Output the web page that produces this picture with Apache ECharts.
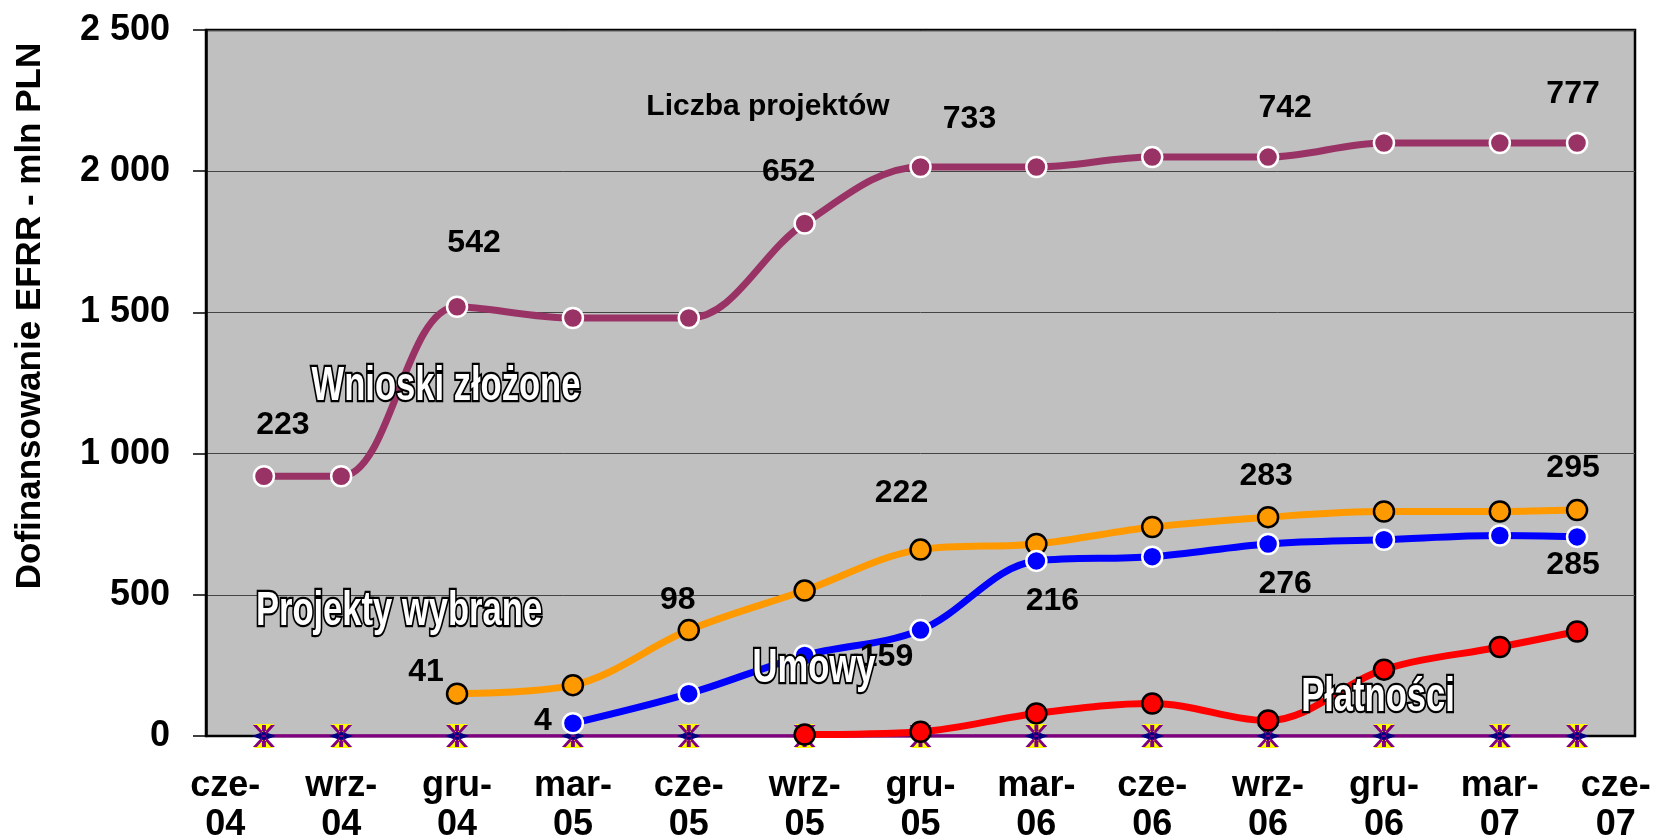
<!DOCTYPE html>
<html>
<head>
<meta charset="utf-8">
<title>Dofinansowanie EFRR</title>
<script src="https://cdn.jsdelivr.net/npm/echarts@6/dist/echarts.min.js"></script>
<style>
  html, body { margin: 0; padding: 0; background: #fff; }
  #chart { width: 1655px; height: 838px; }
</style>
</head>
<body>
<div id="chart"></div>
<script>
// months on the axis (one slot per month)
const months = [
  "cze-04", "lip-04", "sie-04", "wrz-04", "paź-04", "lis-04", "gru-04",
  "sty-05", "lut-05", "mar-05", "kwi-05", "maj-05", "cze-05", "lip-05", "sie-05", "wrz-05", "paź-05", "lis-05", "gru-05",
  "sty-06", "lut-06", "mar-06", "kwi-06", "maj-06", "cze-06", "lip-06", "sie-06", "wrz-06", "paź-06", "lis-06", "gru-06",
  "sty-07", "lut-07", "mar-07", "kwi-07", "maj-07", "cze-07"
];

// months with a reported value
const pointMonths = ["lip-04", "wrz-04", "gru-04", "mar-05", "cze-05", "wrz-05", "gru-05", "mar-06", "cze-06", "wrz-06", "gru-06", "mar-07", "maj-07"];

// mln PLN
const wnioski   = [920, 920, 1520, 1480, 1480, 1815, 2015, 2015, 2050, 2050, 2100, 2100, 2100];
const projekty  = [null, null, 150, 180, 375, 515, 660, 680, 740, 775, 795, 795, 800];
const umowy     = [null, null, null, 45, 150, 285, 375, 620, 635, 680, 695, 710, 705];
const platnosci = [null, null, null, null, null, 5, 15, 80, 115, 55, 235, 315, 370];
const zero      = [0, 0, 0, 0, 0, 0, 0, 0, 0, 0, 0, 0, 0];

// liczba projektów
const liczbaWnioski  = [223, null, 542, null, null, 652, 733, null, null, 742, null, null, 777];
const liczbaProjekty = [null, null, 41, null, 98, null, 222, null, null, 283, null, null, 295];
const liczbaUmowy    = [null, null, null, 4, null, null, 159, 216, null, 276, null, null, 285];

// where the count labels sit relative to their point (px)
const offWnioski  = [[19, -51], null, [17, -64], null, null, [-16, -51], [49, -48], null, null, [17, -49], null, null, [-4, -49]];
const offProjekty = [null, null, [-31, -21], null, [-11, -30], null, [-19, -56], null, null, [-2, -41], null, null, [-4, -42]];
const offUmowy    = [null, null, null, [-30, -2], null, null, [-34, 27], [16, 40], null, [17, 40], null, null, [-4, 28]];

const FONT = "'Liberation Sans', Arial, sans-serif";

function buildData(values, counts, offsets) {
  const out = [];
  pointMonths.forEach((m, i) => {
    if (values[i] == null) return;
    const item = { value: [m, values[i]] };
    if (counts && counts[i] != null) {
      item.label = {
        show: true,
        position: "inside",
        formatter: String(counts[i]),
        offset: offsets[i],
        fontFamily: FONT,
        fontSize: 32,
        fontWeight: "bold",
        color: "#000"
      };
    }
    out.push(item);
  });
  return out;
}

function lineSeries(name, values, color, ring, counts, offsets) {
  return {
    name: name,
    type: "line",
    smooth: 0.35,
    data: buildData(values, counts, offsets),
    symbol: "circle",
    symbolSize: 20,
    lineStyle: { color: color, width: 7 },
    itemStyle: { color: color, borderColor: ring, borderWidth: 2.5 },
    z: 5
  };
}

const chart = echarts.init(document.getElementById("chart"));

const zeroData = pointMonths.map((m, i) => [m, zero[i]]);

chart.setOption({
  animation: false,
  backgroundColor: "#fff",
  grid: {
    left: 206,
    right: 20,
    top: 30,
    bottom: 102,
    outerBoundsMode: "none",
    containLabel: false,
    show: true,
    backgroundColor: "#c0c0c0",
    borderColor: "#000",
    borderWidth: 2.5
  },
  xAxis: {
    type: "category",
    data: months,
    boundaryGap: true,
    axisLine: { lineStyle: { color: "#000", width: 2 } },
    axisTick: { interval: 2, length: 12, lineStyle: { color: "#707070", width: 2 } },
    axisLabel: {
      interval: 2,
      margin: 31,
      formatter: (v) => v.replace("-", "-\n"),
      fontFamily: FONT,
      fontSize: 36,
      fontWeight: "bold",
      lineHeight: 39,
      color: "#000"
    },
    splitLine: { show: false }
  },
  yAxis: {
    type: "value",
    min: 0,
    max: 2500,
    interval: 500,
    axisLine: { show: true, lineStyle: { color: "#000", width: 2.5 } },
    axisTick: { show: true, length: 13, lineStyle: { color: "#000", width: 1.5 } },
    axisLabel: {
      margin: 36,
      formatter: (v) => String(v).replace(/\B(?=(\d{3})+(?!\d))/g, " "),
      fontFamily: FONT,
      fontSize: 36,
      fontWeight: "bold",
      color: "#000"
    },
    splitLine: { lineStyle: { color: "#444", width: 1 } }
  },
  series: [
    {
      name: "zero",
      type: "line",
      data: zeroData,
      symbol: "path://M0,0L10,0L5,5L10,10L0,10L5,5Z",
      symbolSize: [20, 24],
      lineStyle: { color: "#800080", width: 3.5 },
      itemStyle: { color: "#ffff00" },
      z: 3
    },
    {
      name: "zero-b",
      type: "line",
      data: zeroData,
      symbol: "path://M0,5L5,3L10,5L5,7Z",
      symbolSize: [24, 9],
      lineStyle: { width: 0 },
      itemStyle: { color: "#000080" },
      z: 3
    },
    {
      name: "zero-x",
      type: "line",
      data: zeroData,
      symbol: "path://M0,0L1.8,0L5,3.6L8.2,0L10,0L5.9,4.6L5.9,0L4.1,0L4.1,4.6ZM0,10L1.8,10L5,6.4L8.2,10L10,10L5.9,5.4L5.9,10L4.1,10L4.1,5.4ZM4.1,4.6L5.9,4.6L5.9,5.4L4.1,5.4Z",
      symbolSize: [22, 22],
      lineStyle: { width: 0 },
      itemStyle: { color: "#800080" },
      z: 4
    },
    lineSeries("Wnioski złożone", wnioski, "#993366", "#ffffff", liczbaWnioski, offWnioski),
    lineSeries("Projekty wybrane", projekty, "#ff9900", "#000000", liczbaProjekty, offProjekty),
    lineSeries("Umowy", umowy, "#0000ff", "#ffffff", liczbaUmowy, offUmowy),
    lineSeries("Płatności", platnosci, "#ff0000", "#000000", null, null)
  ],
  graphic: [
    {
      type: "text",
      x: 30,
      y: 316,
      rotation: Math.PI / 2,
      style: {
        text: "Dofinansowanie EFRR - mln PLN",
        fontFamily: FONT,
        fontSize: 35,
        fontWeight: "bold",
        fill: "#000",
        textAlign: "center",
        textVerticalAlign: "middle"
      }
    },
    {
      type: "text",
      x: 768,
      y: 107,
      z: 10,
      style: {
        text: "Liczba projektów",
        fontFamily: FONT,
        fontSize: 30,
        fontWeight: "bold",
        fill: "#000",
        textAlign: "center",
        textVerticalAlign: "middle"
      }
    },
    ...[
      ["Wnioski złożone", 446, 387],
      ["Projekty wybrane", 399, 612],
      ["Umowy", 814, 669],
      ["Płatności", 1378, 698]
    ].map(([t, x, y]) => ({
      type: "text",
      x: x,
      y: y,
      z: 10,
      scaleX: 0.72,
      style: {
        text: t,
        fontFamily: FONT,
        fontSize: 48,
        fontWeight: "bold",
        fill: "#fff",
        stroke: "#000",
        lineWidth: 4.5,
        textAlign: "center",
        textVerticalAlign: "middle",
        shadowColor: "#000",
        shadowOffsetX: 2,
        shadowOffsetY: 2
      }
    }))
  ]
});
</script>
</body>
</html>
